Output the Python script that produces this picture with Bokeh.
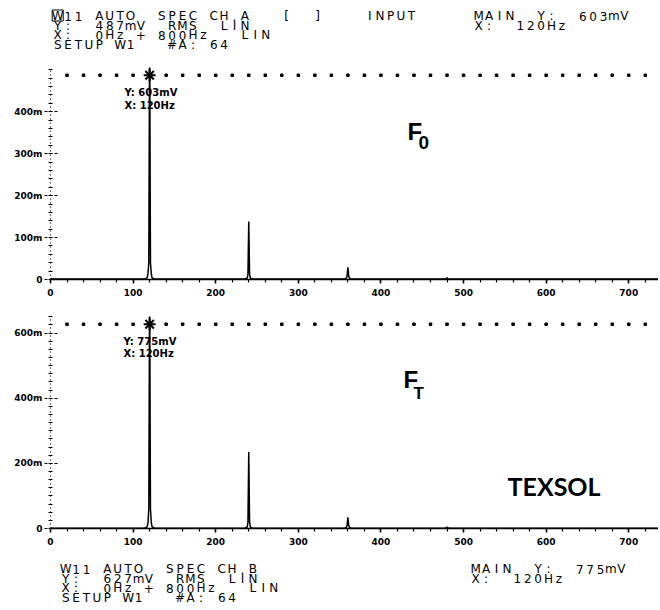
import numpy as np
from bokeh.plotting import figure
from bokeh.models import Range1d, Label, FixedTicker
from bokeh.layouts import column
from bokeh.embed import file_html
from bokeh.resources import INLINE
from bokeh.core.properties import value

# ---------------- data ----------------
freq_hz = [0, 2, 100, 114, 117, 118, 119, 120, 121, 122, 123, 126,
           200, 235, 238, 239, 240, 241, 242, 245,
           300, 356, 358, 359, 360, 361, 362, 364,
           440, 477, 479, 480, 481, 483, 600, 736]
amp_a_mv = [3, 1, 1, 1, 4, 14, 40, 603, 40, 14, 4, 1,
            1, 1, 3, 12, 138, 12, 3, 1,
            1, 1, 3, 8, 29, 8, 3, 1,
            1, 1, 2, 4, 2, 1, 1, 1]
amp_b_mv = [3, 1, 1, 1, 5, 18, 60, 775, 60, 18, 5, 1,
            1, 1, 4, 18, 235, 18, 4, 1,
            1, 1, 3, 9, 34, 9, 3, 1,
            1, 1, 2, 4, 2, 1, 1, 1]
full_scale_a_mv = 487
full_scale_b_mv = 627
cursor_hz = 120
cursor_a_mv = 603
cursor_b_mv = 775
x_ticks_hz = [0, 100, 200, 300, 400, 500, 600, 700]
x_minor_hz = list(range(0, 740, 20))
y_ticks_a = [0, 100, 200, 300, 400]
y_labels_a = ["0", "100m", "200m", "300m", "400m"]
y_ticks_b = [0, 200, 400, 600]
y_labels_b = ["0", "200m", "400m", "600m"]
dot_hz = list(range(20, 740, 20))

top_left = ["W11 AUTO  SPEC CH.A   [  ]    INPUT",
            "Y:  487mV  RMS  LIN",
            "X:  0Hz + 800Hz   LIN",
            "SETUP W1   #A: 64"]
top_right = [f"MAIN  Y:  {cursor_a_mv}mV", f"X:  {cursor_hz}Hz"]
bot_left = ["W11 AUTO  SPEC CH.B",
            "Y:  627mV  RMS  LIN",
            "X:  0Hz + 800Hz   LIN",
            "SETUP W1   #A: 64"]
bot_right = [f"MAIN  Y:  {cursor_b_mv}mV", f"X:  {cursor_hz}Hz"]

# ---------------- layout constants (page pixels) ----------------
W = 658
FRAME_LEFT = 50
X_END = 736
PAD = 1.038           # frame extends a little above full scale
HDR_H = 60
TOP_H, TOP_BT, TOP_BB = 240, 7, 21
BOT_H, BOT_BT, BOT_BB = 249, 16, 21
FTR_H = 60
TOP_Y0 = HDR_H
BOT_Y0 = HDR_H + TOP_H
FTR_Y0 = BOT_Y0 + BOT_H
TOP_FRAME_BOTTOM = TOP_Y0 + TOP_H - TOP_BB
BOT_FRAME_BOTTOM = BOT_Y0 + BOT_H - BOT_BB
PITCH = 10.4
CHAR_SIZE = 12
CHAR_SHIFT = 0.27 * CHAR_SIZE


def text_fig(h, y0):
    p = figure(width=W, height=h, x_range=Range1d(FRAME_LEFT, W),
               y_range=Range1d(y0 + h, y0), x_axis_type=None,
               y_axis_type=None, output_backend="svg", toolbar_location=None,
               min_border_left=FRAME_LEFT, min_border_right=0,
               min_border_top=0, min_border_bottom=0,
               background_fill_color="white", border_fill_color="white")
    p.outline_line_color = None
    p.xgrid.visible = False
    p.ygrid.visible = False
    return p


def make_fig(h, bt, bb, fs, yticks, ylabels, minor_step):
    p = figure(width=W, height=h, x_range=Range1d(0, X_END),
               y_range=Range1d(0, fs * PAD), output_backend="svg",
               toolbar_location=None, min_border_left=FRAME_LEFT,
               min_border_right=0, min_border_top=bt, min_border_bottom=bb,
               background_fill_color="white", border_fill_color="white")
    p.outline_line_color = None
    p.xgrid.visible = False
    p.ygrid.visible = False
    xa = p.xaxis[0]
    xa.ticker = FixedTicker(ticks=x_ticks_hz, minor_ticks=x_minor_hz)
    xa.axis_line_color = "black"
    xa.axis_line_width = 1.6
    xa.major_tick_out = 4
    xa.major_tick_in = 0
    xa.minor_tick_out = 3
    xa.minor_tick_in = 0
    xa.major_tick_line_width = 1.5
    xa.minor_tick_line_width = 1.2
    xa.major_label_standoff = 5
    xa.major_label_text_font = "DejaVu Sans"
    xa.major_label_text_font_style = "bold"
    xa.major_label_text_font_size = "9px"
    xa.major_label_text_color = "black"
    ya = p.yaxis[0]
    ya.ticker = FixedTicker(ticks=yticks,
                            minor_ticks=list(np.arange(0, fs * PAD, minor_step)))
    ya.major_label_overrides = {t: l for t, l in zip(yticks, ylabels)}
    ya.axis_line_color = "black"
    ya.axis_line_dash = "1 3"
    ya.axis_line_width = 1.2
    ya.major_tick_out = 6
    ya.major_tick_in = 8
    ya.major_tick_line_dash = "3 2"
    ya.minor_tick_out = 2
    ya.minor_tick_in = 2
    ya.minor_tick_line_width = 1.2
    ya.major_label_standoff = 2
    ya.major_label_text_font = "DejaVu Sans"
    ya.major_label_text_font_style = "bold"
    ya.major_label_text_font_size = "9px"
    ya.major_label_text_color = "black"
    return p


def char_rows(lines, x0, baselines):
    xs, ys, ts = [], [], []
    for s, yb in zip(lines, baselines):
        for i, ch in enumerate(s):
            if ch == " ":
                continue
            xs.append(x0 + (i + 0.5) * PITCH)
            ys.append(yb - CHAR_SHIFT)
            ts.append(ch)
    return xs, ys, ts


def draw_chars(p, blocks):
    xs, ys, ts = [], [], []
    for lines, x0, base in blocks:
        a, b, c = char_rows(lines, x0, base)
        xs += a
        ys += b
        ts += c
    p.text(x=xs, y=ys, text=ts, text_align="center",
           text_baseline="alphabetic", text_font=value("DejaVu Sans"),
           text_font_size=value(f"{CHAR_SIZE}px"), text_color="black")


def add_label(p, X, Y, frame_bottom, text, size, font="DejaVu Sans",
              style="bold", shift=0.36):
    p.add_layout(Label(x=X - FRAME_LEFT, y=frame_bottom - Y + shift * size,
                       x_units="screen", y_units="screen", text=text,
                       text_font=font, text_font_style=style,
                       text_font_size=f"{size}px", text_color="black",
                       text_baseline="alphabetic"))


# ---------------- header ----------------
hdr = text_fig(HDR_H, 0)
top_base = [19, 28.5, 38, 47.5]
draw_chars(hdr, [(top_left, 52, top_base), (top_right, 473, top_base)])
hdr.rect(x=[52 + 0.5 * PITCH], y=[15], width=11, height=11,
         fill_color=None, line_color="black", line_width=1)

# ---------------- top panel (channel A) ----------------
p1 = make_fig(TOP_H, TOP_BT, TOP_BB, full_scale_a_mv, y_ticks_a, y_labels_a, 20)
p1.line(freq_hz, amp_a_mv, line_color="black", line_width=1.5)
p1.scatter(dot_hz, [full_scale_a_mv] * len(dot_hz), marker="square", size=2.5,
           color="black")
p1.scatter([cursor_hz], [full_scale_a_mv], marker="asterisk", size=12,
           line_color="black", line_width=2)
add_label(p1, 124, 96, TOP_FRAME_BOTTOM, f"Y: {cursor_a_mv}mV", 10)
add_label(p1, 124, 109, TOP_FRAME_BOTTOM, f"X: {cursor_hz}Hz", 10)
add_label(p1, 407, 140, TOP_FRAME_BOTTOM, "F", 24, font="Liberation Sans")
add_label(p1, 418, 149, TOP_FRAME_BOTTOM, "0", 19, font="Liberation Sans")

# ---------------- bottom panel (channel B) ----------------
p2 = make_fig(BOT_H, BOT_BT, BOT_BB, full_scale_b_mv, y_ticks_b, y_labels_b, 25)
p2.line(freq_hz, amp_b_mv, line_color="black", line_width=1.5)
p2.scatter(dot_hz, [full_scale_b_mv] * len(dot_hz), marker="square", size=2.5,
           color="black")
p2.scatter([cursor_hz], [full_scale_b_mv], marker="asterisk", size=12,
           line_color="black", line_width=2)
add_label(p2, 123, 345, BOT_FRAME_BOTTOM, f"Y: {cursor_b_mv}mV", 10)
add_label(p2, 123, 357, BOT_FRAME_BOTTOM, f"X: {cursor_hz}Hz", 10)
add_label(p2, 403, 388, BOT_FRAME_BOTTOM, "F", 24, font="Liberation Sans")
add_label(p2, 413, 399, BOT_FRAME_BOTTOM, "T", 17, font="Liberation Sans")
add_label(p2, 507, 497, BOT_FRAME_BOTTOM, "TEXSOL", 25, font="Lato",
          shift=0.46)

# ---------------- footer ----------------
ftr = text_fig(FTR_H, FTR_Y0)
bot_base = [572, 581.5, 591, 600.5]
draw_chars(ftr, [(bot_left, 60, bot_base), (bot_right, 470, bot_base)])

layout = column(hdr, p1, p2, ftr)
open("out.html", "w").write(file_html(layout, INLINE, title="Spectra"))
